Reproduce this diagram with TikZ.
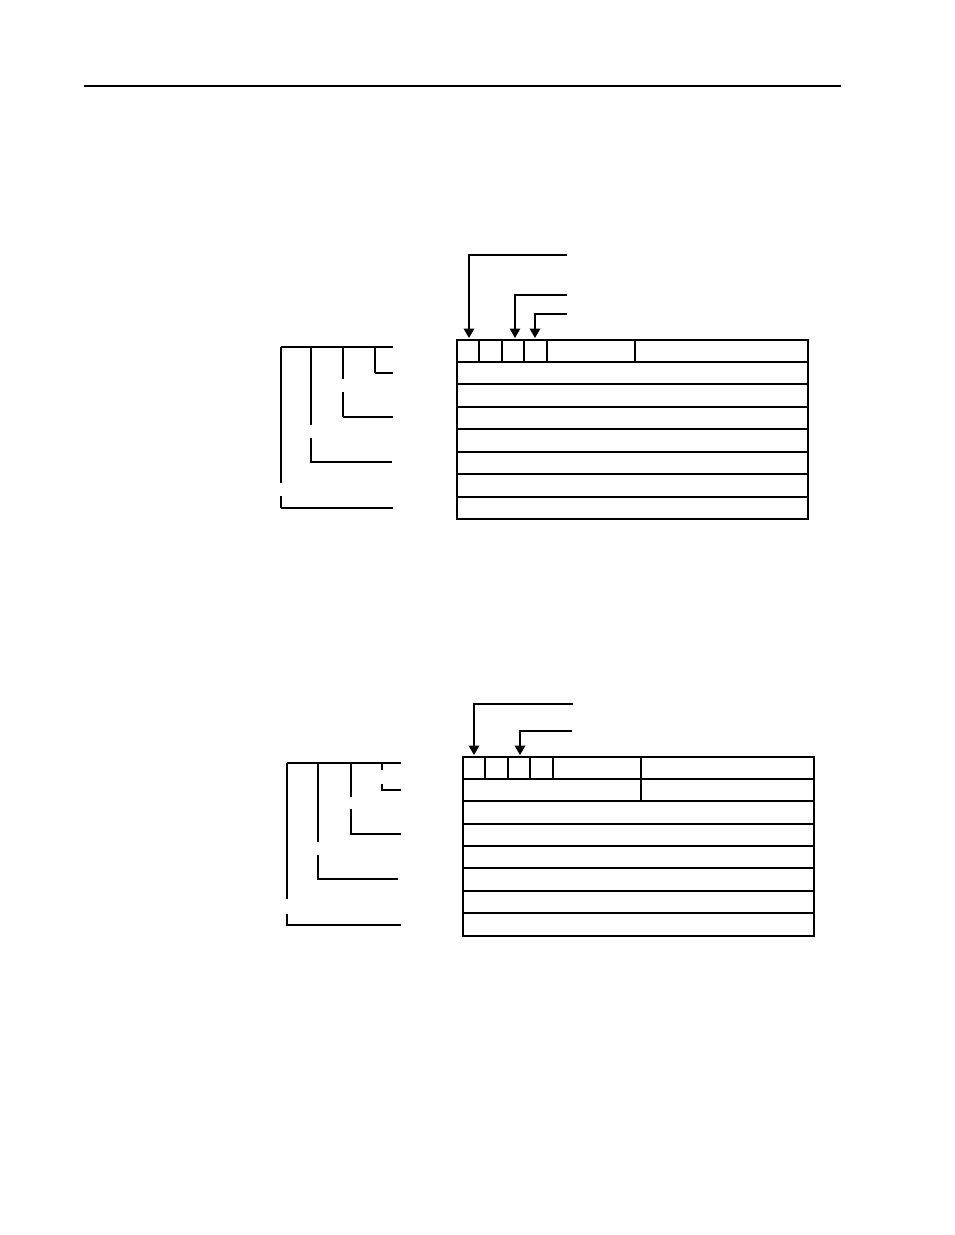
\documentclass[tikz,border=0pt]{standalone}
\usetikzlibrary{arrows.meta}
\begin{document}
\begin{tikzpicture}[x=1pt,y=-1pt,
  thk/.style={line width=2pt},
  thn/.style={line width=1.3pt},
  arr/.style={-{Triangle[width=10.5pt,length=9.5pt]}},
  line join=miter]
\useasboundingbox (0,0) rectangle (954,1235);
% top rule
\draw[line width=1.2pt] (84,86) -- (841,86);

% ===== Diagram 1 =====
% box
\draw[thk] (457,340) rectangle (808,519);
\foreach \y in {362,407,452,497} \draw[thk] (457,\y) -- (808,\y);
\foreach \y in {384,429,474} \draw[thn] (457,\y) -- (808,\y);
\foreach \x in {479,524} \draw[thn] (\x,340) -- (\x,362);
\foreach \x in {502,547,635} \draw[thk] (\x,340) -- (\x,362);
% arrows
\coordinate (a1s) at (567,255); \coordinate (a1e) at (469,338);
\coordinate (a2s) at (567,295); \coordinate (a2e) at (515,338);
\coordinate (a3s) at (567,314); \coordinate (a3e) at (535,338);
\draw[thk,arr] (a1s) -| (a1e);
\draw[thn,arr] (a2s) -| (a2e);
\draw[thk,arr] (a3s) -| (a3e);
% left bracket
\draw[thk] (281,347) -- (393,347);
\draw[thn] (375,347) -- (375,373);
\draw[thk] (375,373) -- (393,373);
\draw[thk] (343,347) -- (343,379);
\draw[thk] (343,392) -- (343,417);
\draw[thn] (343,417) -- (393,417);
\draw[thn] (311,347) -- (311,425);
\draw[thn] (311,438) -- (311,462) -- (392,462);
\draw[thn] (281,347) -- (281,483);
\draw[thn] (281,496) -- (281,508);
\draw[thk] (281,508) -- (393,508);

% ===== Diagram 2 =====
\draw[thk] (463,757) rectangle (814,936);
\foreach \y in {779,824,868,936} \draw[thk] (463,\y) -- (814,\y);
\foreach \y in {801,846,891,913} \draw[thn] (463,\y) -- (814,\y);
\foreach \x in {485,530} \draw[thn] (\x,757) -- (\x,779);
\foreach \x in {508,553} \draw[thk] (\x,757) -- (\x,779);
\draw[thk] (641,757) -- (641,801);
% arrows
\coordinate (b1s) at (573,704); \coordinate (b1e) at (474,755);
\coordinate (b2s) at (572,731); \coordinate (b2e) at (520,755);
\draw[thk,arr] (b1s) -| (b1e);
\draw[thk,arr] (b2s) -| (b2e);
% left bracket
\draw[thk] (287,763) -- (401,763);
\draw[thk] (382,763) -- (382,770);
\draw[thk] (382,784) -- (382,790) -- (401,790);
\draw[thk] (351,763) -- (351,797);
\draw[thn] (351,809) -- (351,834) -- (401,834);
\draw[thk] (318,763) -- (318,842);
\draw[thk] (318,855) -- (318,879) -- (398,879);
\draw[thk] (287,763) -- (287,899);
\draw[thn] (287,914) -- (287,925) -- (401,925);
\end{tikzpicture}
\end{document}
